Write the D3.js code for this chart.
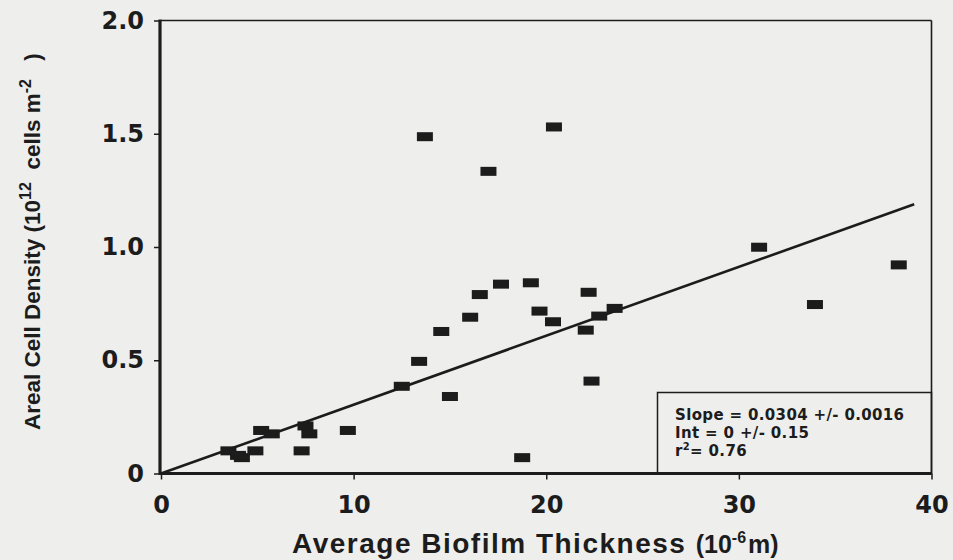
<!DOCTYPE html>
<html>
<head>
<meta charset="utf-8">
<script src="https://cdn.jsdelivr.net/npm/d3@7"></script>
<style>
  html, body { margin: 0; padding: 0; background: #eeeeec; }
  svg { display: block; }
  text { white-space: pre; }
</style>
</head>
<body>
<div id="chart"></div>
<script>
// Average biofilm thickness (10^-6 m) vs areal cell density (10^12 cells m^-2)
var thickness = [3.5, 4.0, 4.2, 4.9, 5.2, 5.75, 7.3, 7.5, 7.7, 9.7,
                 12.5, 13.4, 13.7, 14.55, 15.0, 16.05, 16.55, 17.0, 17.65, 18.75,
                 19.2, 19.65, 20.35, 20.4, 22.05, 22.2, 22.35, 22.75, 23.55, 31.05,
                 33.95, 38.3];
var density   = [0.10, 0.08, 0.07, 0.10, 0.19, 0.175, 0.10, 0.21, 0.175, 0.19,
                 0.385, 0.495, 1.487, 0.627, 0.34, 0.69, 0.79, 1.334, 0.836, 0.07,
                 0.842, 0.717, 0.67, 1.53, 0.633, 0.80, 0.408, 0.695, 0.729, 0.999,
                 0.746, 0.921];

var xTicks = [0, 10, 20, 30, 40];
var yTicks = [0, 0.5, 1.0, 1.5, 2.0];

// fit line
var fitSlope = 0.0304;
var fitRange = [0, 39.1];
var fitText = ["Slope = 0.0304 +/- 0.0016", "Int = 0 +/- 0.15", "= 0.76"];

var ink = "#1c1c1c";

function drawChart(id){

    d3.select(id).select("svg").remove();

    var svg = d3.select(id)
                .append("svg")
                .attr("width", 953)
                .attr("height", 560);

    svg.append("rect")
        .attr("width", 953)
        .attr("height", 560)
        .attr("fill", "#eeeeec");

    var x = d3.scaleLinear()
                .domain([0, 40])
                .range([161, 931.5]);

    var y = d3.scaleLinear()
                .domain([0, 2])
                .range([473.5, 20.5]);

    // Y axis
    var yAxis = svg.append("g")
        .attr("transform", "translate(" + x(0) + ",0)")
        .call(d3.axisLeft(y)
                .tickValues(yTicks)
                .tickSize(7)
                .tickPadding(10)
                .tickFormat(function(d){ return d === 0 ? "0" : d3.format(".1f")(d); }));
    yAxis.select(".domain").remove();
    yAxis.selectAll("line").attr("stroke", ink).attr("stroke-width", 1.5);
    yAxis.selectAll("text")
        .attr("fill", ink)
        .style("font-family", "DejaVu Sans")
        .style("font-weight", "bold")
        .style("font-size", "24px");

    // X axis
    var xAxis = svg.append("g")
        .attr("transform", "translate(0," + y(0) + ")")
        .call(d3.axisBottom(x)
                .tickValues(xTicks)
                .tickSize(6)
                .tickPadding(16)
                .tickFormat(d3.format("d")));
    xAxis.select(".domain").remove();
    xAxis.selectAll("line").attr("stroke", ink).attr("stroke-width", 1.5);
    xAxis.selectAll("text")
        .attr("fill", ink)
        .style("font-family", "DejaVu Sans")
        .style("font-weight", "bold")
        .style("font-size", "24px");

    // frame: thin top/right, heavy left/bottom
    svg.append("line")
        .attr("x1", x(0)).attr("x2", x(40))
        .attr("y1", y(2)).attr("y2", y(2))
        .attr("stroke", ink).attr("stroke-width", 1.6);
    svg.append("line")
        .attr("x1", x(40)).attr("x2", x(40))
        .attr("y1", y(2)).attr("y2", y(0))
        .attr("stroke", ink).attr("stroke-width", 1.6);
    svg.append("line")
        .attr("x1", x(0) - 1).attr("x2", x(0) - 1)
        .attr("y1", y(2) - 1).attr("y2", y(0) + 1)
        .attr("stroke", ink).attr("stroke-width", 3.2);
    svg.append("line")
        .attr("x1", x(0) - 2).attr("x2", x(40))
        .attr("y1", y(0)).attr("y2", y(0))
        .attr("stroke", ink).attr("stroke-width", 3.2);

    // legend box
    svg.append("rect")
        .attr("x", 657.5)
        .attr("y", 392.5)
        .attr("width", x(40) - 657.5)
        .attr("height", y(0) - 392.5)
        .attr("fill", "none")
        .attr("stroke", ink)
        .attr("stroke-width", 1.5);

    var legLines = [fitText[0], fitText[1], null];
    legLines.forEach(function(s, i){
        var t = svg.append("text")
            .attr("x", 675)
            .attr("y", 420 + i * 18)
            .attr("fill", ink)
            .style("font-family", "DejaVu Sans")
            .style("font-weight", "bold")
            .style("font-size", "15px")
            .style("letter-spacing", "0.35px");
        if (s !== null) {
            t.text(s);
        } else {
            t.append("tspan").text("r");
            t.append("tspan").attr("dy", -6).style("font-size", "10px").text("2");
            t.append("tspan").attr("dy", 6).text(fitText[2]);
        }
    });

    // fit line
    svg.append("line")
        .attr("x1", x(fitRange[0]))
        .attr("y1", y(fitSlope * fitRange[0]))
        .attr("x2", x(fitRange[1]))
        .attr("y2", y(fitSlope * fitRange[1]))
        .attr("stroke", ink)
        .attr("stroke-width", 2.6);

    // markers
    var pts = thickness.map(function(t, i){ return {t: t, d: density[i]}; });
    svg.selectAll("myRect")
        .data(pts)
        .enter()
        .append("rect")
        .attr("x", function(d){ return x(d.t) - 8; })
        .attr("y", function(d){ return y(d.d) - 4.5; })
        .attr("width", 16)
        .attr("height", 9)
        .attr("fill", ink);

    // x label
    var xl = svg.append("text")
        .attr("x", 292)
        .attr("y", 553)
        .attr("fill", ink)
        .style("font-family", "Liberation Sans")
        .style("font-weight", "bold")
        .style("font-size", "28px");
    xl.append("tspan").style("letter-spacing", "1.5px").text("Average Biofilm Thickness ");
    xl.append("tspan").style("font-size", "25px").text("(10");
    xl.append("tspan").attr("dy", -10).style("font-size", "16px").text("-6");
    xl.append("tspan").attr("dy", 10).attr("dx", 2).style("font-size", "25px").text("m)");

    // y label
    var yl = svg.append("text")
        .attr("transform", "translate(40,430)rotate(-90)")
        .attr("fill", ink)
        .style("font-family", "Liberation Sans")
        .style("font-weight", "bold")
        .style("font-size", "22.5px");
    yl.append("tspan").text("Areal Cell Density (10");
    yl.append("tspan").attr("dy", -9).style("font-size", "16px").text("12");
    yl.append("tspan").attr("dy", 9).text("  cells m");
    yl.append("tspan").attr("dy", -9).style("font-size", "16px").text("-2");
    yl.append("tspan").attr("dy", 9).attr("dx", 12).text(" )");
}

drawChart("#chart");
</script>
</body>
</html>
